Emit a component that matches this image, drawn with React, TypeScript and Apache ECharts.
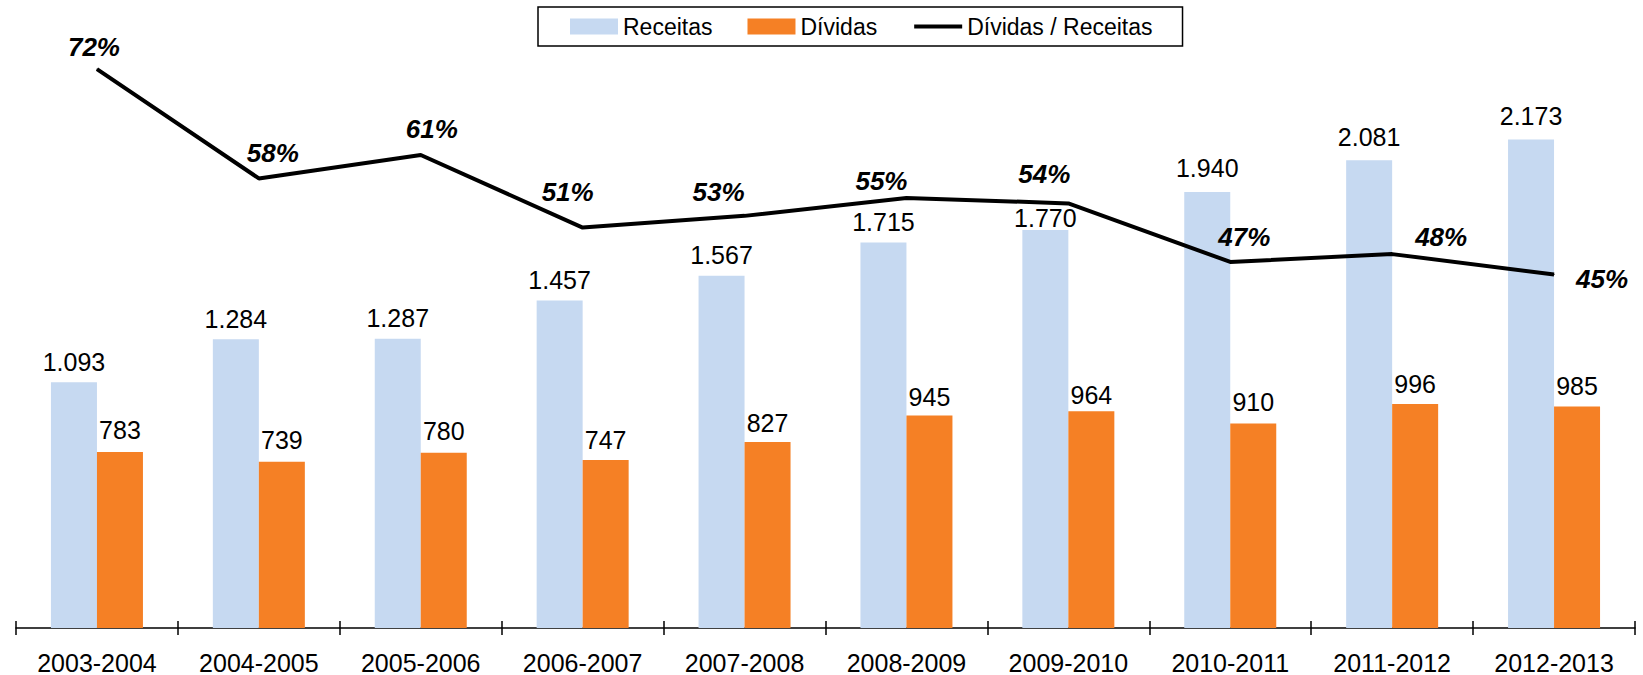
import React, { useEffect, useRef } from "react";
import * as echarts from "echarts";

const categories = [
  "2003-2004", "2004-2005", "2005-2006", "2006-2007", "2007-2008",
  "2008-2009", "2009-2010", "2010-2011", "2011-2012", "2012-2013",
];
const receitas = [1093, 1284, 1287, 1457, 1567, 1715, 1770, 1940, 2081, 2173];
const dividas = [783, 739, 780, 747, 827, 945, 964, 910, 996, 985];
const ratio = [71.6, 57.6, 60.6, 51.3, 52.8, 55.1, 54.4, 46.9, 47.9, 45.3];

const seriesNames = ["Receitas", "Dívidas", "Dívidas / Receitas"];

// label placement (styling, not data)
const pctOffsets: [number, number][] = [
  [-3, -22], [14, -25], [11, -26], [-15, -36], [-26, -24],
  [-25, -17], [-24, -29], [14, -25], [49, -17], [48, 5],
];
const recDist = [8, 8, 8, 8, 8, 8, 0, 11, 11, 11];
const divDist = [9, 9, 9, 8, 7, 6, 4, 9, 8, 8];

const FONT = "'Liberation Sans', Arial, sans-serif";
const fmtThousands = (v: number) =>
  String(v).replace(/\B(?=(\d{3})+(?!\d))/g, ".");

export default function App() {
  const ref = useRef<HTMLDivElement>(null);
  useEffect(() => {
    if (!ref.current) return;
    const chart = echarts.init(ref.current, undefined, { renderer: "svg" });
    const barLabel = {
      show: true,
      position: "top",
      fontSize: 25,
      color: "#000",
      fontFamily: FONT,
      formatter: (p: any) => fmtThousands(p.value),
    };
    chart.setOption({
      animation: false,
      backgroundColor: "#fff",
      textStyle: { fontFamily: FONT },
      legend: {
        left: 538,
        top: 7,
        padding: [8, 30, 8, 32],
        borderColor: "#000",
        borderWidth: 1.5,
        itemWidth: 48,
        itemHeight: 16,
        itemGap: 35,
        textStyle: { fontSize: 23, color: "#000", fontFamily: FONT },
        data: [
          { name: seriesNames[0], icon: "rect" },
          { name: seriesNames[1], icon: "rect" },
          {
            name: seriesNames[2],
            itemStyle: { opacity: 0 },
            lineStyle: { width: 4, color: "#000" },
          },
        ],
      },
      grid: { left: 16, right: 8, top: 66, bottom: 46 },
      xAxis: [
        {
          type: "category",
          data: categories,
          boundaryGap: true,
          axisLine: { lineStyle: { color: "#000", width: 1.5 } },
          axisTick: { show: true, length: 7, lineStyle: { color: "#000", width: 1.5 } },
          axisLabel: {
            fontSize: 25,
            color: "#000",
            fontFamily: FONT,
            margin: 22,
            interval: 0,
          },
        },
        {
          type: "category",
          data: categories,
          position: "bottom",
          boundaryGap: true,
          axisLine: { show: false },
          axisTick: { show: true, inside: true, length: 7, lineStyle: { color: "#000", width: 1.5 } },
          axisLabel: { show: false },
        },
      ],
      yAxis: [
        { type: "value", min: 0, max: 2500, show: false, splitLine: { show: false } },
        { type: "value", min: 0, max: 72, show: false, splitLine: { show: false } },
      ],
      series: [
        {
          name: seriesNames[0],
          type: "bar",
          xAxisIndex: 0,
          yAxisIndex: 0,
          barWidth: 46,
          barGap: "0%",
          itemStyle: { color: "#C6D9F1" },
          label: barLabel,
          data: receitas.map((v, i) => ({ value: v, label: { distance: recDist[i] } })),
        },
        {
          name: seriesNames[1],
          type: "bar",
          xAxisIndex: 0,
          yAxisIndex: 0,
          barWidth: 46,
          barGap: "0%",
          itemStyle: { color: "#F58025" },
          label: barLabel,
          data: dividas.map((v, i) => ({ value: v, label: { distance: divDist[i] } })),
        },
        {
          name: seriesNames[2],
          type: "line",
          xAxisIndex: 0,
          yAxisIndex: 1,
          symbol: "circle",
          symbolSize: 1,
          itemStyle: { color: "#000" },
          lineStyle: { color: "#000", width: 4 },
          z: 5,
          label: {
            show: true,
            position: "inside",
            fontSize: 26,
            fontWeight: "bold",
            fontStyle: "italic",
            color: "#000",
            fontFamily: FONT,
            formatter: (p: any) => Math.round(p.value) + "%",
          },
          data: ratio.map((v, i) => ({ value: v, label: { offset: pctOffsets[i] } })),
        },
      ],
    });
    return () => chart.dispose();
  }, []);
  return (
    <div
      ref={ref}
      style={{ position: "fixed", left: 0, top: 0, width: 1643, height: 675 }}
    />
  );
}
